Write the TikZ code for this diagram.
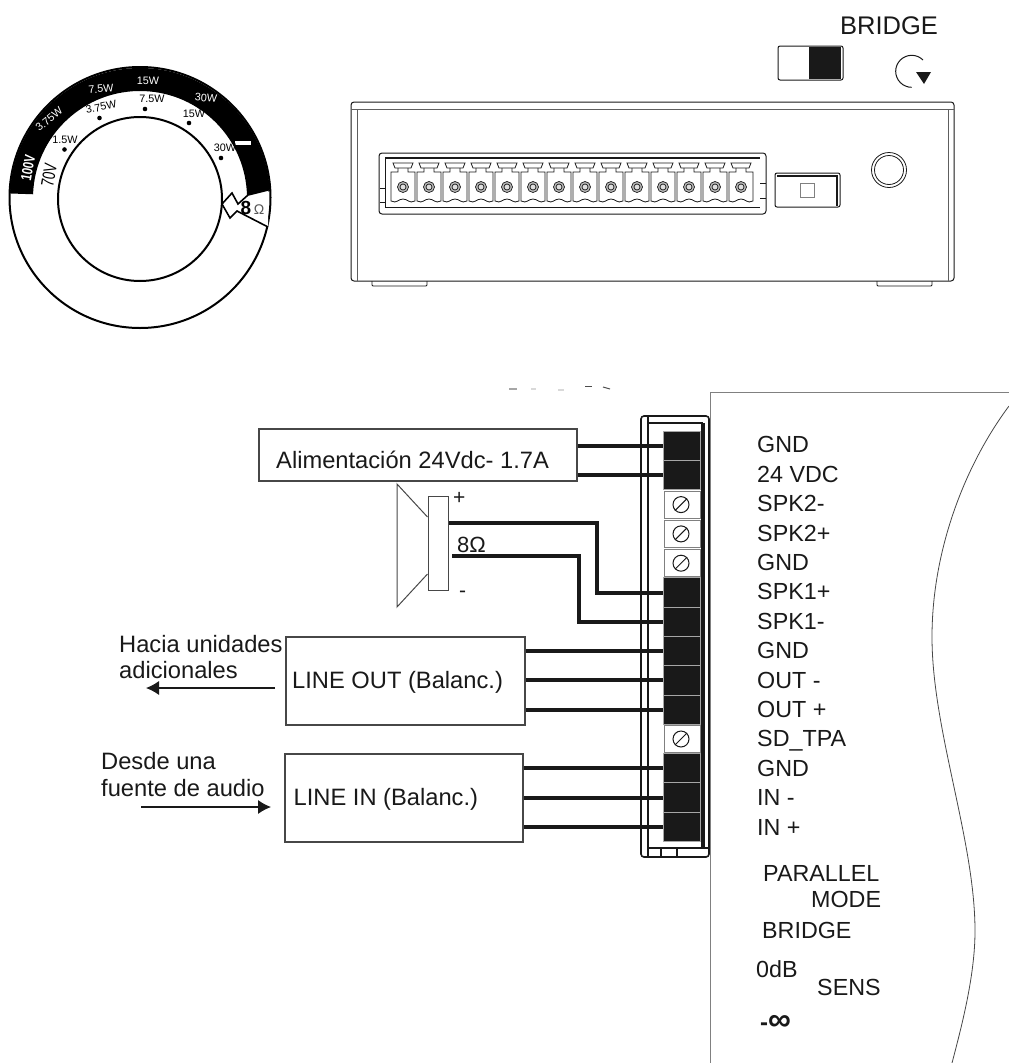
\documentclass[tikz,border=0pt]{standalone}
\usepackage{fontspec}
\setmainfont{Liberation Sans}
\usetikzlibrary{arrows.meta}
\definecolor{inkblack}{gray}{0.1}
\newcommand{\fsz}[1]{\fontsize{#1}{#1}\selectfont}
\tikzset{
    boxtext/.style={anchor=west, inner sep=0pt, text=inkblack, text height=17pt, text depth=0pt, font=\fsz{23.7}},
    pintext/.style={anchor=west, inner sep=0pt, text=inkblack, text height=16.7pt, text depth=0pt, font=\fsz{23.3}},
    ringblack/.style={inner sep=0pt, text=black, font=\fsz{10.8}},
    ringwhite/.style={inner sep=0pt, text=white, font=\fsz{10.8}},
    bluntbox/.style={draw=inkblack!80, line width=1.2pt, rectangle, inner sep=0pt},
    wire/.style={draw=inkblack, line width=4pt},
    bigarrow/.style={draw=inkblack, line width=1.1pt, -{Latex[length=13pt,width=14pt]}},
    termblack/.style={draw=gray!70, line width=1pt, fill=inkblack, rectangle, minimum width=37pt, minimum height=29.3pt, inner sep=0pt},
    termwhite/.style={draw=gray, line width=1pt, fill=white, rectangle, minimum width=36pt, minimum height=27pt, inner sep=0pt},
    screwhead/.style={draw=inkblack, line width=1pt, circle, minimum size=16pt, inner sep=0pt},
    plug/.pic={
        \draw [line width=0.8pt, draw=inkblack] (-10,-24) -- (10,-24) -- (8,-19) -- (-8,-19) -- cycle;
        \draw [line width=0.8pt, draw=inkblack] (-5,-19) -- (-5,-15) -- (-12,-15) -- (-12,14) .. controls (-6,17) and (-5,12) .. (0,12) .. controls (5,12) and (6,17) .. (12,14) -- (12,-15) -- (5,-15) -- (5,-19);
        \draw [line width=0.7pt, draw=inkblack, fill=gray!55] (0,0) circle (5.5);
        \draw [line width=0.7pt, draw=inkblack, fill=gray!25] (0,0) circle (3);
    },
}
\begin{document}
\begin{tikzpicture}[x=1pt,y=-1pt]
    \useasboundingbox (0,0) rectangle (1009,1063);

    \begin{scope}[shift={(140,198)},y=1pt]
        \fill [black] (3:130) arc [start angle=3, end angle=178, radius=130] -- (178:107) arc [start angle=178, end angle=1, radius=107] -- cycle;
    \end{scope}
    \fill [white] (235,141) rectangle (251,145);
    \node [circle, draw=black, line width=2pt, minimum size=261pt, inner sep=0pt] (wheelout) at (140,197.5) {};
    \node [circle, draw=black, line width=2pt, fill=white, minimum size=164pt, inner sep=0pt] (wheelin) at (140,199) {};
    \filldraw [fill=white, draw=black, line width=1.6pt] (268,190) -- (248,195) -- (238,204) -- (232,193) -- (222,204) -- (230,218) -- (237,211) -- (268,227);
    \node [inner sep=0pt, font=\fsz{19}\bfseries] (ohmeight) at (246,208) {8};
    \node [inner sep=0pt, text=black!65, font=\fsz{14}] (ohmsign) at (259,210) {Ω};
    \node [ringwhite, font=\fsz{15}\bfseries, rotate=80, xscale=0.75] (volthigh) at (28,168) {100V};
    \node [ringblack, font=\fsz{18}, rotate=80, xscale=0.73] (voltlow) at (49,175) {70V};
    \node [ringwhite, rotate=40] (wa) at (49,119) {3.75W};
    \node [ringwhite, rotate=5] (wb) at (101,89) {7.5W};
    \node [ringwhite] (wc) at (148,81) {15W};
    \node [ringwhite, rotate=-5] (wd) at (206,98) {30W};
    \node [ringblack] (we) at (65,140) {1.5W};
    \node [ringblack, rotate=12] (wf) at (101,107) {3.75W};
    \node [ringblack] (wg) at (152,99) {7.5W};
    \node [ringblack] (wh) at (194,114) {15W};
    \node [ringblack] (wi) at (225,148) {30W};
    \fill [black] (64.5,149.5) circle (2.3);
    \fill [black] (99.5,118) circle (2.3);
    \fill [black] (145,109) circle (2.3);
    \fill [black] (189,123) circle (2.3);
    \fill [black] (221,158) circle (2.3);

    \node [boxtext, font=\fsz{25.5}, text height=18.3pt] (bridgetop) at (840,25) {BRIDGE};
    \draw [draw=inkblack, line width=1pt, rounded corners=2pt] (778,46) rectangle (843,80);
    \fill [inkblack] (809,47) rectangle (841,79);
    \draw [draw=inkblack, line width=1pt] (923,60) arc [start angle=-45, end angle=-270, x radius=16, y radius=16];
    \fill [inkblack] (916,72) -- (931,72) -- (924,84) -- cycle;

    \draw [draw=inkblack, line width=1pt, rounded corners=3pt] (351,281) -- (351,102) -- (954,102) -- (954,281) -- cycle;
    \draw [draw=inkblack!70, line width=0.8pt] (351,109) -- (954,109);
    \draw [draw=inkblack!70, line width=0.8pt] (357,109) -- (357,281);
    \draw [draw=inkblack!70, line width=0.8pt] (948,109) -- (948,281);
    \draw [draw=inkblack, line width=0.8pt, rounded corners=1pt] (372,281) -- (372,286) -- (427,286) -- (427,281);
    \draw [draw=inkblack, line width=0.8pt, rounded corners=1pt] (877,281) -- (877,286) -- (932,286) -- (932,281);
    \draw [draw=inkblack, line width=1pt, rounded corners=3pt] (379,153) rectangle (766,214);
    \draw [draw=inkblack, line width=1.5pt] (385,158) -- (760,158);
    \draw [draw=inkblack, line width=1pt] (385,207) -- (760,207);
    \draw [draw=inkblack, line width=0.8pt] (385,158) -- (385,207);
    \draw [draw=inkblack, line width=0.8pt] (380,188) -- (385,188);
    \draw [draw=inkblack, line width=0.8pt] (380,202) -- (385,202);
    \draw [draw=inkblack, line width=0.8pt] (760,183) -- (766,183);
    \draw [draw=inkblack, line width=0.8pt] (760,198) -- (766,198);
    \foreach \col in {0,...,13} {
        \pic at (403+26*\col,187) {plug};
    }
    \draw [draw=inkblack, line width=1pt, rounded corners=2pt] (775,173) rectangle (840,207);
    \draw [draw=inkblack, line width=1.4pt] (777,176) -- (837,176) -- (837,206);
    \draw [draw=gray, line width=0.9pt] (800,183) rectangle (814,197);
    \node [circle, draw=inkblack, line width=0.8pt, minimum size=35pt, inner sep=0pt] (knobout) at (889,170) {};
    \node [circle, draw=inkblack, line width=0.8pt, minimum size=29pt, inner sep=0pt] (knobin) at (889,170) {};

    \draw [draw=gray!70, line width=1.5pt] (509,389) to (517,389);
    \draw [draw=gray!30, line width=1.5pt] (531,389) to (536,389);
    \draw [draw=gray!30, line width=1.5pt] (558,390) to (564,390);
    \draw [draw=black!70, line width=1pt] (585,386) to (592,386);
    \draw [draw=black!70, line width=1pt] (603,387) to (610,389);

    \draw [draw=gray, line width=1pt] (1009,392) -- (710.5,392) -- (710.5,1063);
    \draw [draw=inkblack!80, line width=0.8pt] (1009,406) .. controls (965,465) and (932,550) .. (932,637) .. controls (932,730) and (975,840) .. (975,931) .. controls (975,975) and (962,1025) .. (952,1063);

    \node [bluntbox, minimum width=318pt, minimum height=52pt] (psubox) at (418,455) {};
    \node [boxtext] (psutext) at (276,460) {Alimentación 24Vdc- 1.7A};
    \node [bluntbox, minimum width=239pt, minimum height=88pt] (outbox) at (405.5,681) {};
    \node [boxtext] (outtext) at (292,680) {LINE OUT (Balanc.)};
    \node [bluntbox, minimum width=238pt, minimum height=88pt] (inbox) at (404,798) {};
    \node [boxtext] (intext) at (293.5,797) {LINE IN (Balanc.)};
    \node [boxtext] (hacia) at (119,644) {Hacia unidades};
    \node [boxtext] (adic) at (119,670) {adicionales};
    \node [boxtext] (desde) at (101,761) {Desde una};
    \node [boxtext] (fuente) at (101,788) {fuente de audio};
    \coordinate (outfree) at (146,688);
    \coordinate (outstart) at (275,688);
    \coordinate (infree) at (271,807);
    \coordinate (instart) at (141,807);
    \draw [bigarrow] (outstart) to (outfree);
    \draw [bigarrow] (instart) to (infree);

    \node [draw=inkblack!80, line width=1pt, rectangle, minimum width=20pt, minimum height=94pt, inner sep=0pt] (spkbox) at (438,543) {};
    \draw [draw=inkblack!80, line width=1pt] (spkbox.west |- 0,517) -- (397,484) -- (397,607) -- (spkbox.west |- 0,574);
    \node [boxtext, font=\fsz{21}, text height=14pt] (spkplus) at (453,497) {+};
    \node [boxtext, font=\fsz{21}, text height=14pt] (spkminus) at (459,590) {-};
    \node [boxtext, font=\fsz{22}, text height=15.7pt] (spkohm) at (457,545) {8Ω};

    \foreach \row/\kind in {1/termblack,2/termblack,6/termblack,7/termblack,8/termblack,9/termblack,10/termblack,12/termblack,13/termblack,14/termblack} {
        \pgfmathsetmacro{\rowy}{446+29.3*(\row-1)}
        \node [\kind] (t\row) at (682,\rowy) {};
    }
    \foreach \row in {3,4,5,11} {
        \pgfmathsetmacro{\rowy}{446+29.3*(\row-1)}
        \node [termwhite] (t\row) at (682,\rowy) {};
        \node [screwhead] (s\row) at (681,\rowy) {};
        \draw [draw=inkblack, line width=1pt] (s\row.south west) to (s\row.north east);
    }

    \draw [wire] (psubox.east |- t1) to (t1.west);
    \draw [wire] (psubox.east |- t2) to (t2.west);
    \coordinate (spkp) at (449,523);
    \coordinate (spkm) at (452,556);
    \coordinate (spkpbend) at (597,523);
    \coordinate (spkmbend) at (579,556);
    \draw [wire] (spkp) -- (spkpbend) |- (t6.west);
    \draw [wire] (spkm) -- (spkmbend) |- (t7.west);
    \draw [wire] (outbox.east |- t8) to (t8.west);
    \draw [wire] (outbox.east |- t9) to (t9.west);
    \draw [wire] (outbox.east |- t10) to (t10.west);
    \draw [wire] (inbox.east |- t12) to (t12.west);
    \draw [wire] (inbox.east |- t13) to (t13.west);
    \draw [wire] (inbox.east |- t14) to (t14.west);

    \node [draw=inkblack, line width=1.6pt, rounded corners=3pt, rectangle, minimum width=68pt, minimum height=441pt, inner sep=0pt] (strip) at (675,636.5) {};
    \draw [draw=inkblack, line width=1.6pt] (648,416) -- (648,857);
    \draw [draw=inkblack, line width=1.6pt] (648,423) -- (703,423);
    \draw [draw=inkblack, line width=1.6pt] (648,848) -- (709,848);
    \draw [draw=inkblack, line width=4pt] (702.5,423) -- (702.5,848);
    \draw [draw=inkblack, line width=1.3pt] (661,848) -- (661,857);
    \draw [draw=inkblack, line width=1.3pt] (677,848) -- (677,857);

    \foreach \row/\pin in {1/GND,2/24 VDC,3/SPK2-,4/SPK2+,5/GND,6/SPK1+,7/SPK1-,8/GND,9/OUT -,10/OUT +,11/SD\_TPA,12/GND,13/IN -,14/IN +} {
        \pgfmathsetmacro{\rowy}{444.5+29.4*(\row-1)}
        \node [pintext] (pin\row) at (757,\rowy) {\pin};
    }
    \node [pintext] (parallel) at (763,873) {PARALLEL};
    \node [pintext] (modetext) at (811,899) {MODE};
    \node [pintext] (bridgelow) at (762,930) {BRIDGE};
    \node [pintext] (zerodb) at (756,969) {0dB};
    \node [pintext] (sens) at (817,987) {SENS};
    \node [pintext, font=\fsz{24}\bfseries] (infty) at (760,1022) {-{\fsz{32}∞}};
\end{tikzpicture}
\end{document}
